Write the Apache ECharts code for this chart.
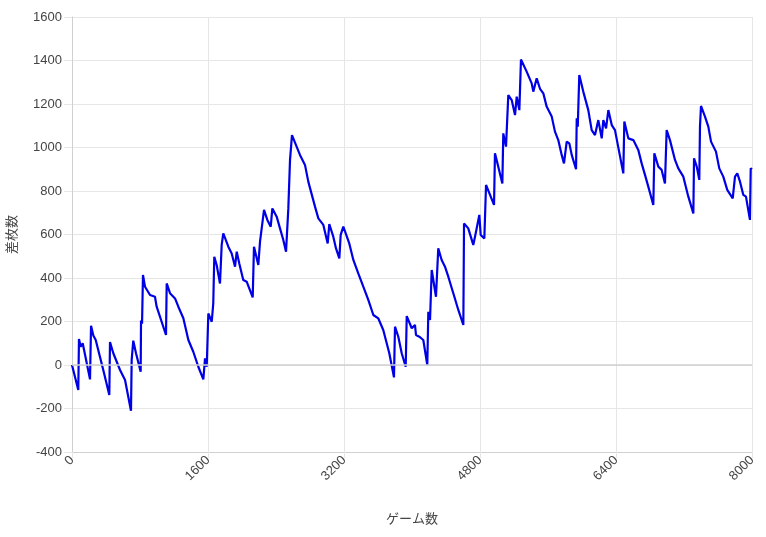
<!DOCTYPE html>
<html>
<head>
<meta charset="utf-8">
<title>差枚数グラフ</title>
<script src="https://cdn.jsdelivr.net/npm/echarts@6/dist/echarts.min.js"></script>
<style>
  html, body { margin: 0; padding: 0; background: #fff; }
  #main { width: 766px; height: 537px; }
</style>
</head>
<body>
<div id="main"></div>
<script>
// ゲーム数 (x) と 差枚数 (y)
var games = [
  0, 74, 82, 102, 126, 212, 224, 251, 279, 368, 439, 447, 486, 506, 565, 624, 694, 702, 721, 753,
  808, 812, 824, 835, 859, 918, 976, 996, 1106, 1114, 1153, 1212, 1251, 1310, 1369, 1427, 1486, 1545, 1565, 1585,
  1604, 1644, 1662, 1674, 1702, 1741, 1761, 1780, 1839, 1879, 1918, 1938, 1968, 2015, 2055, 2126, 2141, 2192, 2212, 2232,
  2259, 2298, 2338, 2357, 2408, 2447, 2486, 2518, 2545, 2565, 2588, 2682, 2741, 2780, 2859, 2898, 2957, 3008, 3027, 3074,
  3106, 3145, 3161, 3192, 3262, 3310, 3368, 3427, 3486, 3545, 3604, 3662, 3733, 3788, 3800, 3839, 3879, 3926, 3938, 3997,
  4035, 4047, 4086, 4133, 4180, 4192, 4212, 4232, 4282, 4309, 4349, 4388, 4427, 4486, 4545, 4604, 4612, 4662, 4721, 4753,
  4792, 4808, 4851, 4871, 4918, 4965, 4976, 5015, 5063, 5074, 5106, 5133, 5173, 5212, 5232, 5263, 5282, 5349, 5408, 5427,
  5467, 5506, 5545, 5584, 5644, 5682, 5721, 5761, 5788, 5820, 5851, 5879, 5930, 5938, 5950, 5968, 6015, 6074, 6114, 6153,
  6192, 6232, 6251, 6283, 6310, 6350, 6388, 6486, 6498, 6545, 6604, 6662, 6702, 6741, 6780, 6839, 6851, 6898, 6937, 6976,
  6996, 7035, 7094, 7133, 7192, 7251, 7310, 7318, 7350, 7380, 7388, 7400, 7447, 7486, 7518, 7576, 7615, 7662, 7709, 7773,
  7800, 7827, 7859, 7898, 7929, 7976, 7985, 8000
];
var diffs = [
  0, -115, 120, 84, 100, -66, 180, 136, 115, -23, -138, 106, 54, 46, -23, -69, -210, 23, 112, 54,
  -31, 204, 190, 414, 360, 322, 314, 268, 138, 375, 330, 306, 268, 215, 115, 61, -8, -66, 31, -8,
  237, 199, 283, 498, 460, 375, 552, 605, 544, 513, 452, 521, 467, 391, 383, 311, 544, 460, 567, 575,
  713, 667, 636, 720, 682, 628, 575, 521, 720, 943, 1057, 966, 920, 843, 728, 674, 644, 559, 648, 590,
  536, 490, 598, 636, 559, 483, 421, 360, 299, 230, 214, 161, 54, -57, 176, 130, 54, -8, 225, 169,
  184, 138, 130, 115, 0, 245, 207, 437, 314, 536, 483, 452, 406, 330, 253, 184, 651, 628, 552, 613,
  690, 598, 582, 828, 782, 736, 973, 912, 835, 1065, 1004, 1241, 1218, 1149, 1234, 1172, 1405, 1349, 1295, 1257,
  1318, 1270, 1249, 1188, 1142, 1073, 1034, 966, 927, 1027, 1019, 966, 900, 1134, 1096, 1333, 1257, 1172, 1080, 1057,
  1126, 1042, 1126, 1088, 1172, 1103, 1080, 881, 1119, 1042, 1034, 989, 927, 874, 820, 736, 973, 912, 897, 835,
  1080, 1034, 943, 904, 866, 774, 697, 950, 912, 851, 1096, 1191, 1142, 1096, 1027, 981, 904, 866, 805, 766,
  866, 881, 843, 782, 774, 667, 904, 900
];

var points = games.map(function (g, i) { return [g, diffs[i]]; });

var myChart = echarts.init(document.getElementById('main'));
var fontFamily = '"Liberation Sans", "Noto Sans CJK JP", sans-serif';
var option = {
  animation: false,
  textStyle: { fontFamily: fontFamily },
  grid: { left: 72, right: 14, top: 17, bottom: 85, outerBoundsMode: 'none' },
  xAxis: {
    type: 'value',
    min: 0,
    max: 8000,
    interval: 1600,
    name: 'ゲーム数',
    nameLocation: 'middle',
    nameGap: 61,
    nameTextStyle: { color: '#444', fontSize: 13, fontFamily: fontFamily },
    axisLine: { show: true, onZero: false, lineStyle: { color: '#d0d0d0' } },
    axisTick: { show: true, length: 6, lineStyle: { color: '#e6e6e6' } },
    axisLabel: {
      color: '#444', fontSize: 13, rotate: 45, margin: 6, fontFamily: fontFamily,
      formatter: function (v) { return String(v); }
    },
    splitLine: { show: true, lineStyle: { color: '#e6e6e6' } }
  },
  yAxis: {
    type: 'value',
    min: -400,
    max: 1600,
    interval: 200,
    name: '差枚数',
    nameLocation: 'middle',
    nameGap: 53,
    nameTextStyle: { color: '#444', fontSize: 13, fontFamily: fontFamily },
    axisLine: { show: true, lineStyle: { color: '#d0d0d0' } },
    axisTick: { show: true, length: 8, lineStyle: { color: '#e6e6e6' } },
    axisLabel: {
      color: '#444', fontSize: 13, margin: 10, fontFamily: fontFamily,
      formatter: function (v) { return String(v); }
    },
    splitLine: { show: true, lineStyle: { color: '#e6e6e6' } }
  },
  series: [
    {
      type: 'line',
      data: points,
      showSymbol: false,
      lineStyle: { color: '#0000e6', width: 2.2 },
      itemStyle: { color: '#0000e6' },
      markLine: {
        silent: true,
        symbol: 'none',
        label: { show: false },
        lineStyle: { color: '#cfcfcf', type: 'solid', width: 1.5 },
        data: [{ yAxis: 0 }]
      }
    }
  ]
};
myChart.setOption(option);
</script>
</body>
</html>
